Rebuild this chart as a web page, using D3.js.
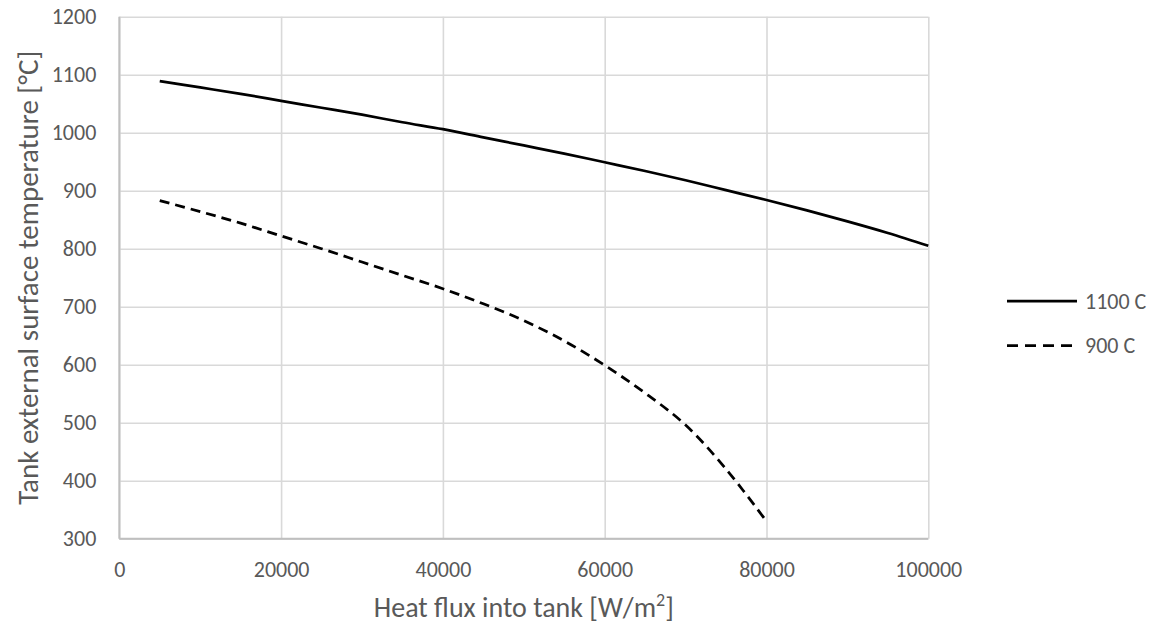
<!DOCTYPE html>
<html lang="en">
<head>
    <title>Tank surface temperature</title>
    <script src="https://d3js.org/d3.v7.min.js"></script>
    <style>
        html, body { margin: 0; padding: 0; background: #fff; overflow: hidden; }
        svg { display: block; }
        text { font-family: Calibri, Carlito, Lato, sans-serif; fill: #595959; }
    </style>
</head>
<body>
    <svg width="1153" height="626" id="mainsvg"></svg>

    <script>
        // heat flux [W/m2]
        const flux = [5000, 10000, 15000, 20000, 25000, 30000, 35000, 40000, 45000, 50000,
                      55000, 60000, 65000, 70000, 75000, 80000, 85000, 90000, 95000, 100000]
        // tank external surface temperature [C]
        const temp1100 = [1089, 1078, 1067, 1055, 1043, 1031, 1018, 1006, 992, 978,
                          964, 949, 934, 918, 901, 884, 866, 847, 827, 805]
        const temp900 = [883, 864, 844, 822, 800, 777, 754, 731, 705, 676,
                         641, 599, 551, 496, 420, 330]

        const seriesNames = ['1100 C', '900 C']
        const xTicks = [0, 20000, 40000, 60000, 80000, 100000]
        const yTicks = [300, 400, 500, 600, 700, 800, 900, 1000, 1100, 1200]

        const xAxisLabel = 'Heat flux into tank [W/m'
        const yAxisLabel = 'Tank external surface temperature [°C]'

        const svg = d3.select('#mainsvg')
        const margin = {top: 16.7, left: 119.3}
        const innerWidth = 809
        const innerHeight = 522

        const xScale = d3.scaleLinear().domain([0, 100000]).range([0, innerWidth])
        const yScale = d3.scaleLinear().domain([300, 1200]).range([innerHeight, 0])

        const g = svg.append('g').attr('transform', `translate(${margin.left}, ${margin.top})`)

        // gridlines
        const yGrid = d3.axisLeft(yScale).tickValues(yTicks).tickSize(-innerWidth).tickFormat('')
        g.append('g').call(yGrid)
            .call(s => s.select('.domain').remove())
            .call(s => s.selectAll('text').remove())
            .selectAll('line').attr('stroke', '#d9d9d9').attr('stroke-width', 1.6)

        const xGrid = d3.axisBottom(xScale).tickValues(xTicks).tickSize(-innerHeight).tickFormat('')
        g.append('g').attr('transform', `translate(0, ${innerHeight})`).call(xGrid)
            .call(s => s.select('.domain').remove())
            .call(s => s.selectAll('text').remove())
            .selectAll('line').attr('stroke', '#d9d9d9').attr('stroke-width', 1.6)

        // axis lines
        g.append('line').attr('x1', 0).attr('x2', 0).attr('y1', 0).attr('y2', innerHeight)
            .attr('stroke', '#bfbfbf').attr('stroke-width', 2)
        g.append('line').attr('x1', 0).attr('x2', innerWidth).attr('y1', innerHeight).attr('y2', innerHeight)
            .attr('stroke', '#bfbfbf').attr('stroke-width', 2)

        // tick labels
        const yAxis = d3.axisLeft(yScale).tickValues(yTicks).tickSize(0).tickPadding(23)
            .tickFormat(d3.format('d'))
        g.append('g').call(yAxis)
            .attr('font-family', null).attr('font-size', null)
            .call(s => s.select('.domain').remove())
            .selectAll('text').style('font-size', '22px').attr('fill', '#595959')

        const xAxis = d3.axisBottom(xScale).tickValues(xTicks).tickSize(0).tickPadding(23)
            .tickFormat(d3.format('d'))
        g.append('g').attr('transform', `translate(0, ${innerHeight})`).call(xAxis)
            .attr('font-family', null).attr('font-size', null)
            .call(s => s.select('.domain').remove())
            .selectAll('text').style('font-size', '22px').attr('fill', '#595959')

        // axis titles
        const xt = svg.append('text')
            .attr('x', margin.left + innerWidth / 2)
            .attr('y', 617)
            .attr('text-anchor', 'middle')
            .style('font-size', '28px')
            .text(xAxisLabel)
        xt.append('tspan').attr('dy', -11).style('font-size', '18px').text('2')
        xt.append('tspan').attr('dy', 11).text(']')

        svg.append('text')
            .attr('transform', `translate(38, ${margin.top + innerHeight / 2}) rotate(-90)`)
            .attr('text-anchor', 'middle')
            .style('font-size', '29px')
            .text(yAxisLabel)

        // lines
        const line = d3.line()
            .x(d => xScale(d[0]))
            .y(d => yScale(d[1]))
            .curve(d3.curveCatmullRom)

        const data1100 = temp1100.map((v, i) => [flux[i], v])
        const data900 = temp900.map((v, i) => [flux[i], v])

        g.append('path').datum(data1100).attr('d', line)
            .attr('fill', 'none').attr('stroke', '#000').attr('stroke-width', 2.75)
        g.append('path').datum(data900).attr('d', line)
            .attr('fill', 'none').attr('stroke', '#000').attr('stroke-width', 2.75)
            .attr('stroke-dasharray', '10,6')

        // legend
        const legend = svg.append('g').attr('transform', 'translate(1007, 301)')
        seriesNames.forEach((name, i) => {
            const row = legend.append('g').attr('transform', `translate(0, ${i * 44.7})`)
            row.append('line').attr('x1', 0).attr('x2', 70).attr('y1', 0).attr('y2', 0)
                .attr('stroke', '#000').attr('stroke-width', 2.75)
                .attr('stroke-dasharray', i === 1 ? '11,7' : null)
            row.append('text').attr('x', 78).attr('dy', '0.35em')
                .style('font-size', '22px').text(name)
        })
    </script>
</body>
</html>
